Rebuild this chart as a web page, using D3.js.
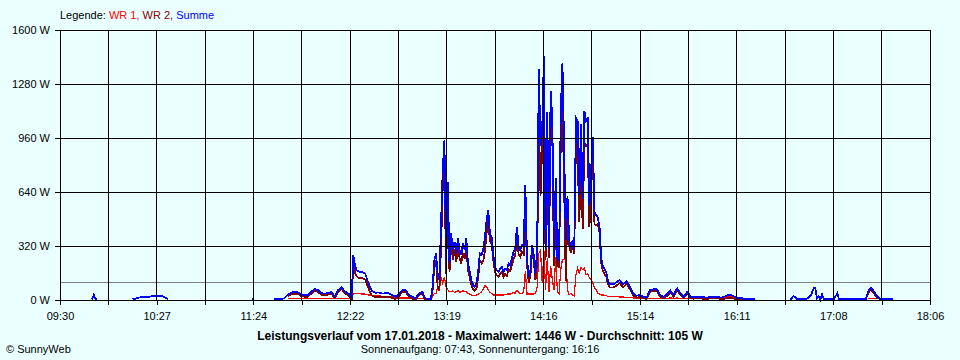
<!DOCTYPE html>
<html>
<head>
<meta charset="utf-8">
<script src="https://cdn.jsdelivr.net/npm/d3@7"></script>
<style>
  body { margin: 0; background: #eaffff; }
  svg { display: block; font-family: "Liberation Sans", Arial, sans-serif; font-size: 11px; }
</style>
</head>
<body>
<svg id="chart" width="960" height="360"></svg>
<script>
const tickLabels = ["09:30", "10:27", "11:24", "12:22", "13:19", "14:16", "15:14", "16:11", "17:08", "18:06"];
const yTicks = [0, 320, 640, 960, 1280, 1600];
const average = 105;

const times = [
  "09:49","09:50","09:51","09:52","09:53",
  "10:13","10:15","10:17","10:19","10:21","10:23","10:25","10:27","10:29","10:31","10:33","10:34","10:35",
  "11:24","11:25","11:26",
  "11:37","11:39","11:41","11:43",
  "11:45","11:47","11:49","11:51","11:53","11:55","11:57","11:59","12:01","12:03",
  "12:05","12:07","12:09","12:11","12:13","12:15","12:17","12:19","12:21","12:23",
  "12:24","12:25","12:26","12:27",
  "12:29","12:31","12:33","12:35","12:37","12:39","12:41","12:43","12:45","12:47",
  "12:49","12:51","12:53","12:55","12:57","12:59","13:01","13:03","13:05",
  "13:06","13:07","13:09",
  "13:10","13:11","13:12","13:13","13:14","13:15","13:16","13:17","13:18","13:19",
  "13:20","13:21","13:22","13:23","13:24","13:25","13:26","13:27","13:28","13:29",
  "13:30","13:31","13:32","13:33","13:34","13:35","13:36","13:37","13:38","13:39",
  "13:40","13:41","13:42","13:43","13:44","13:45","13:46","13:47","13:48","13:49",
  "13:50","13:51","13:52","13:53","13:54","13:55","13:56","13:57","13:58","13:59",
  "14:00","14:01","14:02","14:03","14:04","14:05","14:06","14:07","14:08","14:09",
  "14:10","14:11","14:12","14:13","14:14","14:15","14:16","14:17","14:18","14:19",
  "14:20","14:21","14:22","14:23","14:24","14:25","14:26","14:27","14:28","14:29",
  "14:30","14:31","14:32","14:33","14:34","14:35","14:36","14:37","14:38","14:39",
  "14:40","14:41","14:42","14:43","14:44","14:45","14:46","14:47","14:48","14:49",
  "14:50","14:51","14:52","14:53","14:54","14:55","14:56","14:57","14:58","14:59",
  "15:00",
  "15:02","15:04","15:06","15:08","15:10","15:12","15:14","15:16","15:18","15:20",
  "15:22","15:24","15:26","15:28","15:30","15:32","15:34","15:36","15:38","15:40",
  "15:42","15:44","15:46","15:48","15:50","15:52","15:54","15:56","15:58","16:00",
  "16:02","16:04","16:06","16:08","16:10","16:12","16:14","16:16","16:18","16:20",
  "16:22","16:23",
  "16:43","16:44","16:45","16:46","16:47","16:49","16:51","16:53","16:54","16:55",
  "16:56","16:57","16:58","16:59","17:00","17:01","17:02","17:03","17:05","17:07",
  "17:09","17:11","17:12","17:14","17:18","17:22","17:26","17:28",
  "17:29","17:30","17:31","17:32","17:33","17:34","17:35",
  "17:36","17:38","17:40","17:42","17:44"
];

// Summe (blue)
const summe = [
  2,30,8,2,null,
  4,8,15,18,20,20,22,22,25,22,12,4,null,
  4,4,null,
  4,4,4,10,
  30,44,47,47,32,30,30,48,66,58,
  40,38,42,48,20,60,75,50,38,20,
  266,200,177,170,
  165,157,98,55,42,45,38,40,40,30,
  20,35,59,59,30,18,12,40,50,
  20,10,5,
  6,79,236,276,157,118,453,768,945,236,
  698,216,394,295,344,276,364,295,266,335,
  295,364,216,167,118,89,79,98,167,276,
  266,295,374,472,531,394,374,266,197,177,
  167,187,197,167,187,177,216,207,246,285,
  305,433,315,295,325,315,679,246,138,177,
  325,266,157,300,1368,910,1004,1446,300,1112,
  300,1240,1067,260,722,250,236,1112,1402,909,
  354,616,354,320,354,300,1078,1060,620,1045,
  600,1122,1060,1082,560,768,968,520,502,490,
  433,250,200,180,165,115,94,94,94,98,
  105,
  118,92,112,79,40,25,30,20,16,59,
  63,63,30,20,35,55,30,69,40,20,
  49,20,18,20,20,16,14,20,20,20,
  14,20,30,30,18,10,14,5,4,4,
  4,null,
  4,10,24,18,4,4,4,8,14,24,
  43,69,69,10,24,4,33,4,4,4,
  4,40,4,4,4,4,4,4,
  40,63,73,60,49,30,18,
  8,4,4,4,4
];

// WR 1 (red)
const wr1 = [
  null,null,null,null,null,
  null,null,null,null,null,null,null,null,null,null,null,null,null,
  null,null,null,
  null,null,null,null,
  10,10,10,10,10,10,10,10,10,10,
  10,10,10,10,10,10,10,10,10,12,
  40,40,38,38,
  35,35,30,28,25,25,22,22,20,18,
  15,12,12,12,12,10,10,10,10,
  10,8,5,
  6,20,39,39,79,60,138,100,138,79,
  60,49,49,55,45,49,55,45,49,55,
  49,49,40,35,30,25,25,30,35,40,
  49,65,85,80,60,45,40,30,30,30,
  30,30,30,30,32,35,35,35,40,45,
  40,59,45,40,40,45,170,35,35,35,
  35,35,40,79,276,295,100,295,60,250,
  50,200,120,60,256,50,40,180,240,240,
  240,60,30,40,30,25,150,191,160,191,
  180,191,150,157,130,118,100,71,60,40,
  35,30,30,28,25,22,20,20,20,20,
  20,
  18,18,15,15,12,12,10,10,10,10,
  10,10,10,10,10,12,10,12,10,10,
  10,10,10,10,10,10,8,10,10,10,
  8,12,20,20,10,6,6,4,3,3,
  3,null,
  null,null,null,null,null,null,null,null,null,null,
  null,null,null,null,null,null,null,null,null,null,
  null,null,null,null,null,null,null,null,
  10,10,10,10,10,10,10,
  null,null,null,null,null
];

// WR 2 (dark red)
const wr2 = [
  null,null,null,null,null,
  null,null,null,null,null,null,null,null,null,null,null,null,null,
  null,null,null,
  null,null,null,null,
  20,34,37,37,22,20,20,38,56,48,
  30,28,32,38,10,50,65,40,28,8,
  226,160,139,132,
  130,122,68,27,17,20,16,18,20,12,
  5,23,47,47,18,8,2,30,40,
  10,2,0,
  0,59,197,237,78,58,315,668,807,157,
  638,167,345,240,299,227,309,250,217,280,
  246,315,176,132,88,64,54,68,132,236,
  217,230,289,392,471,349,334,236,167,147,
  137,157,167,137,155,142,181,172,206,240,
  265,374,270,255,285,270,509,211,103,142,
  290,231,117,221,1092,615,904,1151,240,862,
  250,1040,947,200,466,200,196,932,1162,669,
  114,556,324,280,324,275,928,869,460,854,
  420,931,910,925,430,650,868,449,442,450,
  398,220,170,152,140,93,74,74,74,78,
  85,
  100,74,97,64,28,13,20,10,6,49,
  53,53,20,10,25,43,20,57,30,10,
  39,10,8,10,10,6,6,10,10,10,
  6,8,10,10,8,4,8,1,1,1,
  1,null,
  null,null,null,null,null,null,null,null,null,null,
  null,null,null,null,null,null,null,null,null,null,
  null,null,null,null,null,null,null,null,
  30,53,63,50,39,20,8,
  null,null,null,null,null
];

if (summe.length !== times.length || wr1.length !== times.length || wr2.length !== times.length) {
  throw new Error(`length mismatch: times ${times.length}, summe ${summe.length}, wr1 ${wr1.length}, wr2 ${wr2.length}`);
}

// ---- layout ----
const margin = { top: 30, right: 30, bottom: 60, left: 60 };
const width = 960 - margin.left - margin.right;
const height = 360 - margin.top - margin.bottom;
const bg = "#eaffff";

const parseTime = d3.timeParse("%H:%M");
const start = parseTime(tickLabels[0]);
const end = parseTime(tickLabels[tickLabels.length - 1]);

const x = d3.scaleTime().domain([start, end]).range([0, width]);
const y = d3.scaleLinear().domain([0, 1600]).range([height, 0]);

// grid every half label step (18 intervals)
const step = (end - start) / 18;
const gridTimes = d3.range(19).map((i) => new Date(+start + i * step));

const svg = d3.select("#chart");
svg.append("rect").attr("width", 960).attr("height", 360).attr("fill", bg);

const g = svg.append("g").attr("transform", `translate(${margin.left}, ${margin.top})`);

const rows = times.map((t, i) => ({ t: parseTime(t), wr1: wr1[i], wr2: wr2[i], summe: summe[i] }));

// average line
g.append("line")
  .attr("x1", 0).attr("x2", width)
  .attr("y1", Math.round(y(average)) + 0.5).attr("y2", Math.round(y(average)) + 0.5)
  .attr("stroke", "#808080")
  .attr("stroke-width", 1);

// series: WR 1, WR 2, then Summe on top (aliased like the original)
const series = [
  { key: "wr1", color: "#ff0000", w: 1.2 },
  { key: "wr2", color: "#800000", w: 1.8 },
  { key: "summe", color: "#0000ff", w: 1.8 },
];

series.forEach((s) => {
  const line = d3.line()
    .defined((d) => d[s.key] != null)
    .x((d) => x(d.t))
    .y((d) => y(d[s.key]));
  g.append("path")
    .datum(rows)
    .attr("fill", "none")
    .attr("stroke", s.color)
    .attr("stroke-width", s.w)
    .attr("shape-rendering", "crispEdges")
    .attr("d", line);
});

// grid on top
const grid = g.append("g").attr("stroke", "#000").attr("stroke-width", 1).attr("shape-rendering", "crispEdges");
grid.selectAll(".v")
  .data(gridTimes)
  .join("line")
  .attr("x1", (d) => x(d)).attr("x2", (d) => x(d))
  .attr("y1", 0).attr("y2", height);
grid.selectAll(".h")
  .data(yTicks)
  .join("line")
  .attr("x1", 0).attr("x2", width)
  .attr("y1", (d) => y(d)).attr("y2", (d) => y(d));

// y axis
const yAxis = g.append("g")
  .call(d3.axisLeft(y).tickValues(yTicks).tickSize(5).tickPadding(5).tickFormat((d) => `${d} W`))
  .attr("font-size", 11)
  .attr("font-family", "Liberation Sans, Arial, sans-serif");
yAxis.select(".domain").remove();
yAxis.selectAll("line").attr("stroke", "#000").attr("shape-rendering", "crispEdges");
yAxis.selectAll("text").attr("fill", "#000");

// x axis
const xAxis = g.append("g")
  .attr("transform", `translate(0, ${height})`)
  .call(d3.axisBottom(x).tickValues(gridTimes).tickSize(5).tickPadding(7)
    .tickFormat((d, i) => (i % 2 === 0 ? tickLabels[i / 2] : "")))
  .attr("font-size", 11)
  .attr("font-family", "Liberation Sans, Arial, sans-serif");
xAxis.select(".domain").remove();
xAxis.selectAll("line").attr("stroke", "#000").attr("shape-rendering", "crispEdges");
xAxis.selectAll("text").attr("fill", "#000");

// legend
const legend = svg.append("text").attr("x", 60).attr("y", 19).attr("fill", "#000");
legend.append("tspan").text("Legende: ");
legend.append("tspan").attr("fill", "#ff0000").text("WR 1, ");
legend.append("tspan").attr("fill", "#800000").text("WR 2, ");
legend.append("tspan").attr("fill", "#0000ff").text("Summe");

// footer
svg.append("text")
  .attr("x", 480).attr("y", 340)
  .attr("text-anchor", "middle")
  .attr("font-weight", "bold")
  .attr("font-size", 12)
  .attr("fill", "#000")
  .text("Leistungsverlauf vom 17.01.2018 - Maximalwert: 1446 W - Durchschnitt: 105 W");

svg.append("text")
  .attr("x", 480).attr("y", 353)
  .attr("text-anchor", "middle")
  .attr("fill", "#000")
  .text("Sonnenaufgang: 07:43, Sonnenuntergang: 16:16");

svg.append("text")
  .attr("x", 6).attr("y", 353)
  .attr("fill", "#000")
  .text("© SunnyWeb");
</script>
</body>
</html>
